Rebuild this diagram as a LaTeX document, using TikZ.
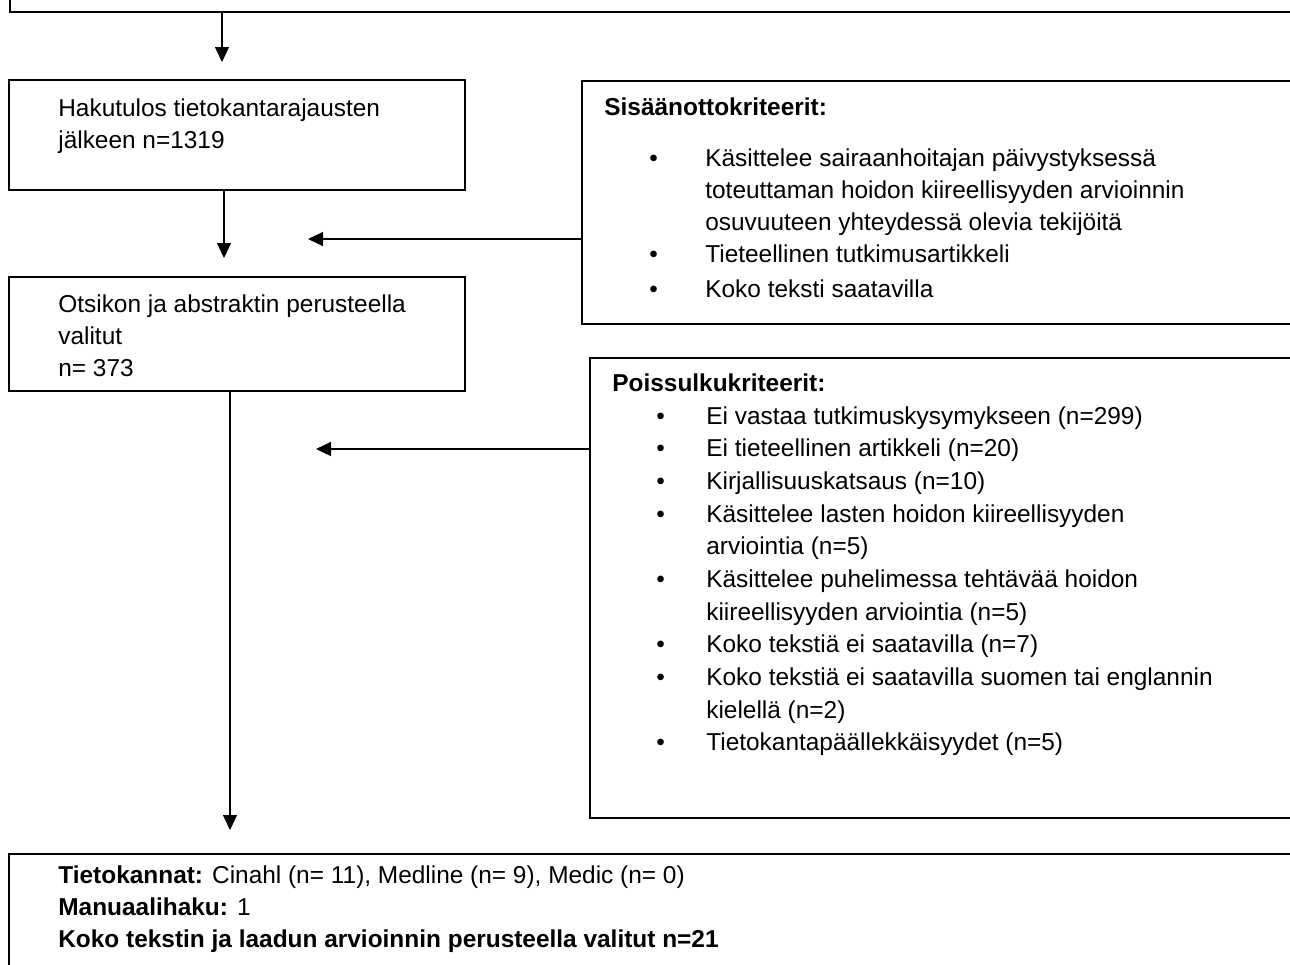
\documentclass[tikz,border=0pt]{standalone}
\usepackage{fontspec}
\setmainfont{Liberation Sans}
\usetikzlibrary{arrows.meta,fit}
\tikzset{
  box/.style={draw, line width=0.8pt, inner sep=0pt},
  arr/.style={-{Triangle[length=0.3cm,width=0.28cm]}, line width=0.6pt},
  txt/.style={anchor=base west, inner sep=0pt, font=\fontsize{13.9pt}{18.3pt}\selectfont},
  lst/.style={txt, font=\fontsize{13.9pt}{18.6pt}\selectfont}
}
\begin{document}
\begin{tikzpicture}[x=0.02cm, y=-0.02cm]
\useasboundingbox (0,0) rectangle (1290,964);
\clip (0,0) rectangle (1290,964);

% boxes
\node[box, fit={(10,-20) (1320,12)}] (top) {};
\node[box, fit={(9,80) (465,190)}] (hak) {};
\node[box, fit={(9,277) (465,391)}] (ots) {};
\node[box, fit={(582,81) (1320,324)}] (sis) {};
\node[box, fit={(590,358) (1320,818)}] (poi) {};
\node[box, fit={(9,854) (1320,990)}] (tie) {};

% texts
\node[txt] (hakt) at (58,116) {\begin{tabular}[t]{@{}l@{}}
Hakutulos tietokantarajausten\\
jälkeen n=1319
\end{tabular}};
\node[txt] (otst) at (58,312) {\begin{tabular}[t]{@{}l@{}}
Otsikon ja abstraktin perusteella\\
valitut\\
n= 373
\end{tabular}};
\node[txt] (sish) at (604,115) {\textbf{Sisäänottokriteerit:}};
\node[txt] (sisl) at (649,166) {\begin{tabular}[t]{@{}p{1.12cm}@{}l@{}}
• & Käsittelee sairaanhoitajan päivystyksessä\\
  & toteuttaman hoidon kiireellisyyden arvioinnin\\
  & osuvuuteen yhteydessä olevia tekijöitä\\
• & Tieteellinen tutkimusartikkeli\\[1.5pt]
• & Koko teksti saatavilla
\end{tabular}};
\node[txt] (poih) at (612,391) {\textbf{Poissulkukriteerit:}};
\node[lst] (poil) at (656,424) {\begin{tabular}[t]{@{}p{1.0cm}@{}l@{}}
• & Ei vastaa tutkimuskysymykseen (n=299)\\
• & Ei tieteellinen artikkeli (n=20)\\
• & Kirjallisuuskatsaus (n=10)\\
• & Käsittelee lasten hoidon kiireellisyyden\\
  & arviointia (n=5)\\
• & Käsittelee puhelimessa tehtävää hoidon\\
  & kiireellisyyden arviointia (n=5)\\
• & Koko tekstiä ei saatavilla (n=7)\\
• & Koko tekstiä ei saatavilla suomen tai englannin\\
  & kielellä (n=2)\\
• & Tietokantapäällekkäisyydet (n=5)
\end{tabular}};
\node[txt] (tiet) at (58,883) {\begin{tabular}[t]{@{}l@{}}
\textbf{Tietokannat:} Cinahl (n= 11), Medline (n= 9), Medic (n= 0)\\
\textbf{Manuaalihaku:} 1\\
\textbf{Koko tekstin ja laadun arvioinnin perusteella valitut n=21}
\end{tabular}};

% arrows
\coordinate (e1) at (222,62);
\coordinate (e2) at (224,258);
\coordinate (e3) at (308,239);
\coordinate (e4) at (316,449);
\coordinate (e5) at (230,830);
\draw[arr] (top.south -| e1) -- (e1);
\draw[arr] (hak.south -| e2) -- (e2);
\draw[arr] (sis.west |- e3) -- (e3);
\draw[arr] (poi.west |- e4) -- (e4);
\draw[arr] (ots.south -| e5) -- (e5);

\end{tikzpicture}
\end{document}
